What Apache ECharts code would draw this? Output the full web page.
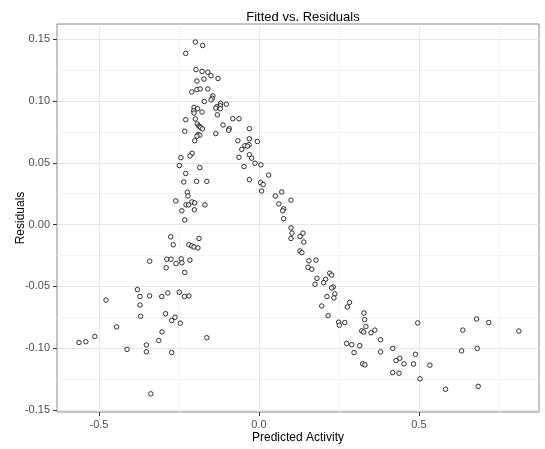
<!DOCTYPE html>
<html><head><meta charset="utf-8">
<script src="https://cdn.jsdelivr.net/npm/echarts@6/dist/echarts.min.js"></script>
<style>html,body{margin:0;padding:0;background:#fff}#c{width:545px;height:449px}</style>
</head><body><div id="c"></div>
<script>
// Predicted activity (fitted) values
const predicted = [
-0.380,-0.372,-0.342,-0.304,-0.285,-0.249,-0.233,-0.219,-0.478,-0.372,
-0.292,-0.370,-0.273,-0.2625,-0.246,-0.445,-0.303,-0.513,-0.313,-0.163,
-0.5625,-0.541,-0.352,-0.4125,-0.352,-0.273,-0.338,-0.3416,
-0.199,-0.176,-0.229,-0.197,-0.178,-0.160,-0.150,-0.172,-0.128,-0.194,
-0.210,-0.194,-0.184,-0.160,-0.144,-0.146,-0.150,-0.171,-0.120,-0.102,
-0.121,-0.132,-0.135,-0.121,-0.203,-0.192,-0.204,-0.178,-0.203,-0.130,
-0.229,-0.199,-0.082,-0.0625,-0.193,-0.188,-0.185,-0.182,-0.177,-0.1125,
-0.093,-0.095,-0.030,-0.232,-0.135,-0.190,-0.185,-0.194,-0.030,-0.066,
-0.005,-0.201,-0.031,-0.044,-0.036,-0.054,-0.209,-0.030,-0.2156,-0.244,
-0.0625,-0.023,
-0.0125,0.006,-0.249,-0.047,-0.185,-0.229,0.030,-0.235,-0.195,-0.163,
-0.030,0.005,0.013,0.008,-0.224,-0.222,0.051,-0.260,-0.210,-0.201,
-0.228,-0.220,-0.169,0.062,-0.241,-0.202,-0.232,-0.276,-0.1875,-0.268,
-0.219,-0.210,-0.203,-0.191,-0.288,-0.275,-0.243,-0.216,-0.259,-0.241,
-0.290,-0.232,
0.071,0.100,0.077,0.074,0.077,0.100,0.103,0.100,0.1375,0.128,0.140,
0.128,0.134,0.156,0.178,0.153,0.165,0.221,0.227,0.181,0.208,
0.202,0.175,0.232,0.227,0.237,0.2125,0.234,0.283,0.276,0.196,
0.328,0.216,0.330,0.496,0.249,0.251,0.268,0.334,0.321,0.327,
0.362,0.350,0.380,0.274,0.290,0.315,0.297,0.380,0.418,0.440,
0.428,0.489,0.324,0.331,0.453,0.483,0.418,0.4375,0.503,
0.680,0.718,0.637,0.812,0.633,0.682,0.534,0.583,0.685
];
// Residual values
const residuals = [
-0.0526,-0.0582,-0.0577,-0.0582,-0.0553,-0.0547,-0.0582,-0.0577,-0.0611,-0.0651,
-0.0721,-0.0742,-0.0777,-0.0750,-0.0798,-0.0828,-0.0868,-0.0905,-0.0938,-0.0916,
-0.0954,-0.0948,-0.0974,-0.1010,-0.1030,-0.1036,-0.1370,-0.0296,
0.1478,0.1450,0.1386,0.1255,0.1240,0.1234,0.1205,0.1178,0.1183,0.1162,
0.1074,0.1093,0.1098,0.1098,0.1042,0.1023,0.1010,0.0997,0.0981,0.0975,
0.0962,0.0954,0.0943,0.0938,0.0949,0.0938,0.0921,0.0911,0.0903,0.0889,
0.0849,0.0855,0.0857,0.0857,0.0815,0.0799,0.0793,0.0785,0.0775,0.0807,
0.0777,0.0764,0.0777,0.0756,0.0737,0.0729,0.0724,0.0716,0.0695,0.0679,
0.0673,0.0679,0.0647,0.0639,0.0635,0.0609,0.0577,0.0566,0.0556,0.0542,
0.0545,0.0538,
0.0497,0.0484,0.0478,0.0470,0.0462,0.0414,0.0401,0.0345,0.0350,0.0350,
0.0364,0.0340,0.0324,0.0272,0.0262,0.0232,0.0232,0.0192,0.0184,0.0176,
0.0160,0.0160,0.0160,0.0168,0.0112,0.0120,0.0038,-0.0099,-0.0112,-0.0163,
-0.0163,-0.0173,-0.0181,-0.0189,-0.0280,-0.0280,-0.0277,-0.0288,-0.0315,-0.0309,
-0.0349,-0.0387,
0.0264,0.0198,0.0128,0.0112,0.0048,-0.0026,-0.0069,-0.0112,-0.0069,-0.0096,-0.0141,
-0.0213,-0.0227,-0.0293,-0.0288,-0.0345,-0.0361,-0.0393,-0.0409,-0.0435,-0.0443,
-0.0470,-0.0483,-0.0505,-0.0513,-0.0561,-0.0582,-0.0593,-0.0630,-0.0667,-0.0659,
-0.0716,-0.0737,-0.0769,-0.0796,-0.0790,-0.0814,-0.0793,-0.0825,-0.0860,-0.0870,
-0.0854,-0.0876,-0.0932,-0.0962,-0.0972,-0.0980,-0.1036,-0.1030,-0.1002,-0.1082,
-0.1100,-0.1050,-0.1127,-0.1135,-0.1127,-0.1128,-0.1198,-0.1203,-0.1248,
-0.0764,-0.0793,-0.0854,-0.0862,-0.1022,-0.1002,-0.1138,-0.1333,-0.1309
];
const xTicks = [-0.5, 0.0, 0.5];
const xMinorTicks = [-0.25, 0.25, 0.75];
const yTicks = [-0.15, -0.10, -0.05, 0.00, 0.05, 0.10, 0.15];
const yMinorTicks = [-0.125, -0.075, -0.025, 0.025, 0.075, 0.125];

const points = predicted.map((x, i) => [x, residuals[i]]);
const FONT = 'Liberation Sans, Arial, sans-serif';
const X_MIN = -0.63125, X_MAX = 0.875, Y_MIN = -0.1517, Y_MAX = 0.1624;

const chart = echarts.init(document.getElementById('c'), null, {renderer: 'canvas'});
chart.setOption({
  animation: false,
  backgroundColor: '#fff',
  title: {
    text: 'Fitted vs. Residuals', left: 298, top: 6, textAlign: 'center',
    textStyle: {fontFamily: FONT, fontSize: 13, fontWeight: 'normal', color: '#000'}
  },
  grid: {left: 57, top: 24, width: 482, height: 392, show: true,
         borderColor: '#8a8a8a', borderWidth: 1, backgroundColor: '#fff'},
  xAxis: [{
    type: 'value', min: X_MIN, max: X_MAX, position: 'bottom',
    name: 'Predicted Activity', nameLocation: 'middle', nameGap: 20, nameMoveOverlap: false,
    nameTextStyle: {fontFamily: FONT, fontSize: 12, color: '#000'},
    axisLine: {show: false, onZero: false},
    axisTick: {show: true, inside: false, length: 4, customValues: xTicks, lineStyle: {color: '#333'}},
    axisLabel: {customValues: xTicks, margin: 7, formatter: v => v.toFixed(1),
                fontFamily: FONT, fontSize: 11, color: '#4d4d4d'},
    splitLine: {show: true, lineStyle: {color: '#e6e6e6', width: 1}}
  }, {
    type: 'value', min: X_MIN, max: X_MAX, position: 'top',
    axisLine: {show: false, onZero: false}, axisLabel: {show: false},
    axisTick: {show: false, customValues: xMinorTicks},
    splitLine: {show: true, lineStyle: {color: '#f3f3f3', width: 1}}
  }],
  yAxis: [{
    type: 'value', min: Y_MIN, max: Y_MAX, position: 'left',
    name: 'Residuals', nameLocation: 'middle', nameGap: 30, nameRotate: 90, nameMoveOverlap: false,
    nameTextStyle: {fontFamily: FONT, fontSize: 12, color: '#000'},
    axisLine: {show: false, onZero: false},
    axisTick: {show: true, inside: false, length: 4, customValues: yTicks, lineStyle: {color: '#333'}},
    axisLabel: {customValues: yTicks, margin: 7, formatter: v => v.toFixed(2),
                fontFamily: FONT, fontSize: 11, color: '#4d4d4d'},
    splitLine: {show: true, lineStyle: {color: '#e6e6e6', width: 1}}
  }, {
    type: 'value', min: Y_MIN, max: Y_MAX, position: 'right',
    axisLine: {show: false, onZero: false}, axisLabel: {show: false},
    axisTick: {show: false, customValues: yMinorTicks},
    splitLine: {show: true, lineStyle: {color: '#f3f3f3', width: 1}}
  }],
  series: [{
    type: 'scatter', xAxisIndex: 0, yAxisIndex: 0,
    data: points, symbol: 'circle', symbolSize: 4.5,
    itemStyle: {color: '#ffffff', borderColor: '#000', borderWidth: 1},
    z: 5
  }]
});
</script></body></html>
